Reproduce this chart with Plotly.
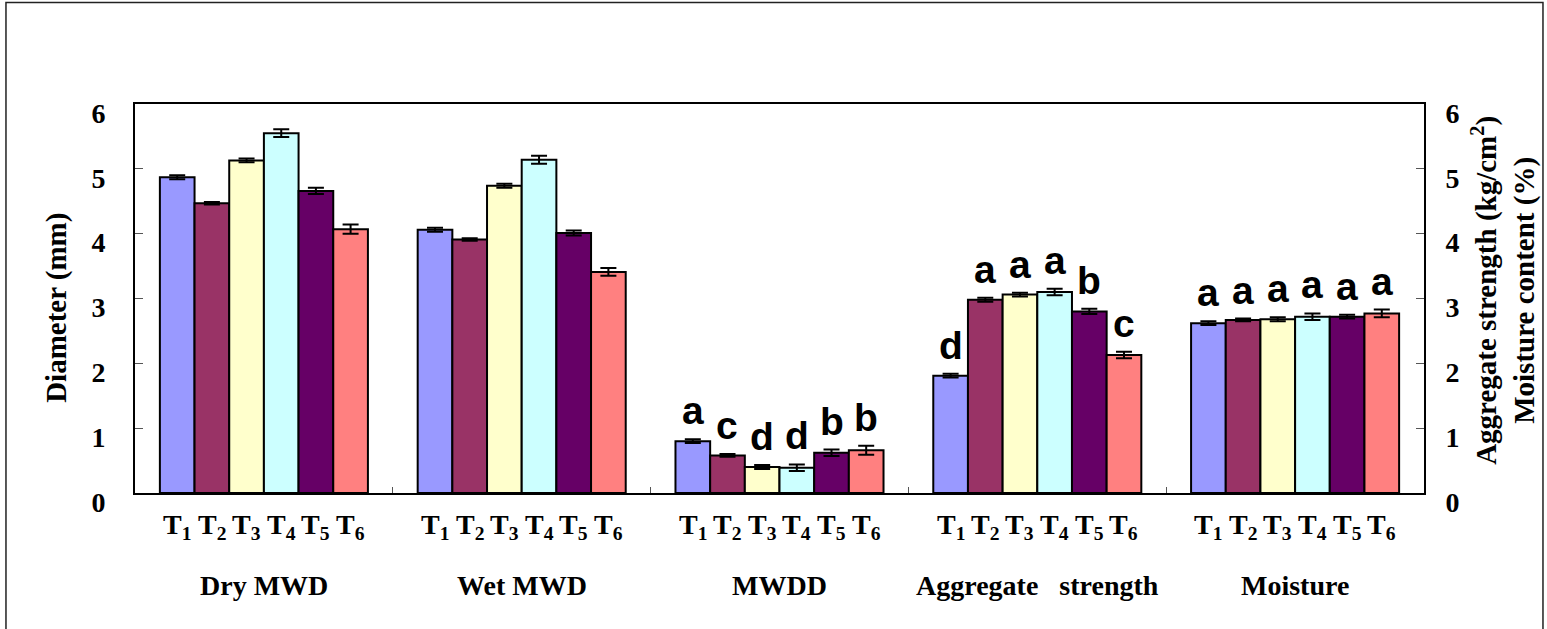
import plotly.graph_objects as go

# ---------------- data ----------------
groups = ["Dry MWD", "Wet MWD", "MWDD", "Aggregate   strength", "Moisture"]
treatments = ["T<sub>1</sub>", "T<sub>2</sub>", "T<sub>3</sub>",
              "T<sub>4</sub>", "T<sub>5</sub>", "T<sub>6</sub>"]

dry_mwd = [4.87, 4.47, 5.13, 5.55, 4.66, 4.07]
dry_mwd_err = [0.03, 0.02, 0.03, 0.06, 0.05, 0.07]

wet_mwd = [4.06, 3.91, 4.74, 5.14, 4.01, 3.41]
wet_mwd_err = [0.03, 0.02, 0.03, 0.06, 0.04, 0.06]

mwdd = [0.80, 0.58, 0.40, 0.39, 0.62, 0.66]
mwdd_err = [0.03, 0.02, 0.03, 0.05, 0.05, 0.07]

aggregate_strength = [1.81, 2.98, 3.06, 3.10, 2.80, 2.13]
aggregate_strength_err = [0.03, 0.03, 0.03, 0.05, 0.04, 0.05]

moisture = [2.62, 2.67, 2.68, 2.72, 2.72, 2.77]
moisture_err = [0.03, 0.02, 0.03, 0.05, 0.03, 0.06]

letters_mwdd = ["a", "c", "d", "d", "b", "b"]
letters_aggregate = ["d", "a", "a", "a", "b", "c"]
letters_moisture = ["a", "a", "a", "a", "a", "a"]

y_ticks = [0, 1, 2, 3, 4, 5, 6]

# ---------------- styling ----------------
colors = ["#9999FF", "#993366", "#FFFFCC", "#CCFFFF", "#660066", "#FF8080"]
serif = "Liberation Serif"
sans = "Liberation Sans"

series = [
    (dry_mwd, dry_mwd_err, None, "y"),
    (wet_mwd, wet_mwd_err, None, "y"),
    (mwdd, mwdd_err, letters_mwdd, "y"),
    (aggregate_strength, aggregate_strength_err, letters_aggregate, "y2"),
    (moisture, moisture_err, letters_moisture, "y2"),
]

cluster = 0.807
bw = cluster / len(treatments)
offsets = [(i - (len(treatments) - 1) / 2) * bw for i in range(len(treatments))]

fig = go.Figure()
annotations = []

for g, (vals, errs, letters, yax) in enumerate(series):
    xs = [g + o for o in offsets]
    fig.add_trace(go.Bar(
        x=xs, y=vals, width=bw, yaxis=yax,
        marker=dict(color=colors, line=dict(color="black", width=2)),
        error_y=dict(type="data", array=errs, visible=True,
                     color="black", thickness=2, width=8),
        showlegend=False, hoverinfo="skip",
    ))
    for i, x in enumerate(xs):
        annotations.append(dict(
            x=x, y=-0.087, xref="x", yref="paper", text=treatments[i],
            showarrow=False, font=dict(family=serif, size=28, color="black", weight="bold"),
            xanchor="center", yanchor="middle"))
        if letters:
            yref = "y" if yax == "y" else "y2"
            annotations.append(dict(
                x=x, y=vals[i] + errs[i], xref="x", yref=yref, text=letters[i],
                showarrow=False, font=dict(family=sans, size=39, color="black", weight="bold"),
                xanchor="center", yanchor="bottom", yshift=5))
    annotations.append(dict(
        x=g, y=-0.237, xref="x", yref="paper", text=groups[g],
        showarrow=False, font=dict(family=serif, size=28, color="black", weight="bold"),
        xanchor="center", yanchor="middle"))

# axis titles
annotations.append(dict(
    x=-0.0605, y=0.476, xref="paper", yref="paper", text="Diameter (mm)",
    textangle=-90, showarrow=False,
    font=dict(family=serif, size=29, color="black", weight="bold"),
    xanchor="center", yanchor="middle"))
annotations.append(dict(
    x=1.062, y=0.522, xref="paper", yref="paper",
    text="Aggregate strength (kg/cm<sup>2</sup>)<br>Moisture content (%)",
    textangle=-90, showarrow=False, align="center",
    font=dict(family=serif, size=29, color="black", weight="bold"),
    xanchor="center", yanchor="middle"))

tick_font = dict(family=serif, size=28, color="black", weight="bold")

fig.update_layout(
    width=1547, height=629, autosize=False,
    margin=dict(l=135, r=123, t=104, b=136),
    paper_bgcolor="white", plot_bgcolor="white",
    xaxis=dict(range=[-0.5, len(groups) - 0.5], tickvals=[0.5, 1.5, 2.5, 3.5],
               ticks="inside", ticklen=6, tickcolor="#555", tickwidth=1,
               showticklabels=False, showgrid=False, zeroline=False,
               showline=True, linecolor="black", linewidth=2, mirror=True),
    yaxis=dict(range=[0, 6], tickvals=y_ticks, ticks="inside", ticklen=8,
               tickcolor="#555", tickwidth=1, tickfont=tick_font,
               ticklabelstandoff=22, ticklabelshift=9,
               showgrid=False, zeroline=False,
               showline=True, linecolor="black", linewidth=2),
    yaxis2=dict(range=[0, 6], tickvals=y_ticks, ticks="inside", ticklen=8,
                tickcolor="#555", tickwidth=1, tickfont=tick_font,
                ticklabelstandoff=14, ticklabelshift=9,
                overlaying="y", side="right", showgrid=False, zeroline=False,
                showline=True, linecolor="black", linewidth=2),
    annotations=annotations,
    shapes=[dict(type="rect", xref="paper", yref="paper",
                 x0=-0.1001, x1=1.0923, y0=-0.40, y1=1.261,
                 line=dict(color="#222", width=1.5), fillcolor="rgba(0,0,0,0)",
                 layer="below")],
)

fig.write_html("out.html", config={"displayModeBar": False},
               post_script="document.body.style.margin='0';")
